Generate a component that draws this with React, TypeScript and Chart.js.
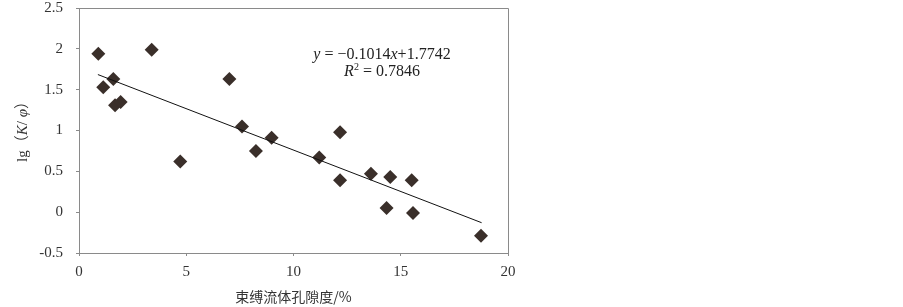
import React, { useEffect, useRef } from "react";
import { Chart, registerables } from "chart.js";

Chart.register(...registerables);

const porosity = [0.9, 1.13, 1.6, 1.68, 1.94, 3.39, 4.72, 7.01, 7.6, 8.25, 8.98, 11.2, 12.17, 12.17, 13.61, 14.51, 15.51, 14.34, 15.57, 18.74];
const lgKphi = [1.94, 1.53, 1.63, 1.31, 1.35, 1.99, 0.62, 1.63, 1.05, 0.75, 0.91, 0.67, 0.98, 0.39, 0.47, 0.43, 0.39, 0.05, -0.01, -0.29];
const trendSlope = -0.1014;
const trendIntercept = 1.7742;
const trendXRange = [0.88, 18.77];
const xTicks = [0, 5, 10, 15, 20];
const yTicks = [-0.5, 0, 0.5, 1, 1.5, 2, 2.5];

type Seg = { t: string; italic?: boolean; sup?: boolean };

function drawSegs(ctx: CanvasRenderingContext2D, segs: Seg[], cx: number, cy: number, size: number) {
  const fontFor = (s: Seg) =>
    `${s.italic ? "italic " : ""}${s.sup ? Math.round(size * 0.65) : size}px "Liberation Serif", "Noto Sans CJK SC", serif`;
  let total = 0;
  for (const s of segs) {
    ctx.font = fontFor(s);
    total += ctx.measureText(s.t).width;
  }
  let x = cx - total / 2;
  ctx.textBaseline = "middle";
  ctx.textAlign = "left";
  for (const s of segs) {
    ctx.font = fontFor(s);
    ctx.fillText(s.t, x, s.sup ? cy - size * 0.3 : cy);
    x += ctx.measureText(s.t).width;
  }
}

const decorPlugin = {
  id: "decor",
  afterDraw(chart: any) {
    const { ctx, chartArea } = chart;
    ctx.save();
    ctx.strokeStyle = "#8a8a8a";
    ctx.lineWidth = 1;
    ctx.beginPath();
    ctx.moveTo(chartArea.left + 0.5, chartArea.top + 0.5);
    ctx.lineTo(chartArea.right + 0.5, chartArea.top + 0.5);
    ctx.lineTo(chartArea.right + 0.5, chartArea.bottom + 0.5);
    ctx.stroke();

    ctx.fillStyle = "#222";
    drawSegs(ctx, [
      { t: "y", italic: true },
      { t: " = −0.1014" },
      { t: "x", italic: true },
      { t: "+1.7742" },
    ], 382, 55, 16);
    drawSegs(ctx, [
      { t: "R", italic: true },
      { t: "2", sup: true },
      { t: " = 0.7846" },
    ], 382, 72, 16);

    // x title
    ctx.font = '14px "Noto Sans CJK SC", serif';
    ctx.textAlign = "center";
    ctx.textBaseline = "middle";
    ctx.fillStyle = "#333";
    ctx.fillText("束缚流体孔隙度/%", (chartArea.left + chartArea.right) / 2, 297);

    // y title
    ctx.translate(23, 128);
    ctx.rotate(-Math.PI / 2);
    drawSegs(ctx, [
      { t: "lg（" },
      { t: "K", italic: true },
      { t: "/ " },
      { t: "φ", italic: true },
      { t: "）" },
    ], 0, 0, 15);
    ctx.restore();
  },
};

export default function App() {
  const ref = useRef<HTMLCanvasElement | null>(null);
  useEffect(() => {
    document.body.style.margin = "0";
    const points = porosity.map((x, i) => ({ x, y: lgKphi[i] }));
    const trend = trendXRange.map((x) => ({ x, y: trendSlope * x + trendIntercept }));
    const chart = new Chart(ref.current!, {
      type: "scatter",
      data: {
        datasets: [
          {
            type: "line",
            data: trend,
            borderColor: "#111",
            borderWidth: 1,
            pointRadius: 0,
            fill: false,
          } as any,
          {
            data: points,
            pointStyle: "rectRot",
            pointRadius: 7,
            backgroundColor: "#3a2f2a",
            borderColor: "#3a2f2a",
            borderWidth: 0,
          },
        ],
      },
      options: {
        animation: false,
        responsive: false,
        layout: { padding: { left: 0, right: 903 - 508, top: 8, bottom: 0 } },
        plugins: { legend: { display: false }, tooltip: { enabled: false } },
        scales: {
          x: {
            type: "linear",
            min: 0,
            max: 20,
            afterBuildTicks: (s: any) => { s.ticks = xTicks.map((v) => ({ value: v })); },
            afterFit: (s: any) => { s.height = 307 - 253; s.paddingLeft = 0; s.paddingRight = 0; },
            grid: { drawOnChartArea: false, drawTicks: true, tickLength: 3, color: "#8a8a8a" },
            border: { display: true, color: "#8a8a8a" },
            ticks: {
              padding: 7,
              color: "#333",
              font: { family: '"Liberation Serif", serif', size: 15 },
              maxRotation: 0,
              callback: (v: any) => String(v),
            },
          },
          y: {
            type: "linear",
            min: -0.5,
            max: 2.5,
            afterBuildTicks: (s: any) => { s.ticks = yTicks.map((v) => ({ value: v })); },
            afterFit: (s: any) => { s.width = 79; s.paddingTop = 0; s.paddingBottom = 0; },
            grid: { drawOnChartArea: false, drawTicks: true, tickLength: 3, color: "#8a8a8a" },
            border: { display: true, color: "#8a8a8a" },
            ticks: {
              padding: 13,
              color: "#333",
              font: { family: '"Liberation Serif", serif', size: 15 },
              callback: (v: any) => String(v),
            },
          },
        },
      },
      plugins: [decorPlugin],
    });
    return () => chart.destroy();
  }, []);
  return (
    <div style={{ width: 903, height: 307, background: "#fff" }}>
      <canvas ref={ref} width={903} height={307} style={{ display: "block" }} />
    </div>
  );
}
